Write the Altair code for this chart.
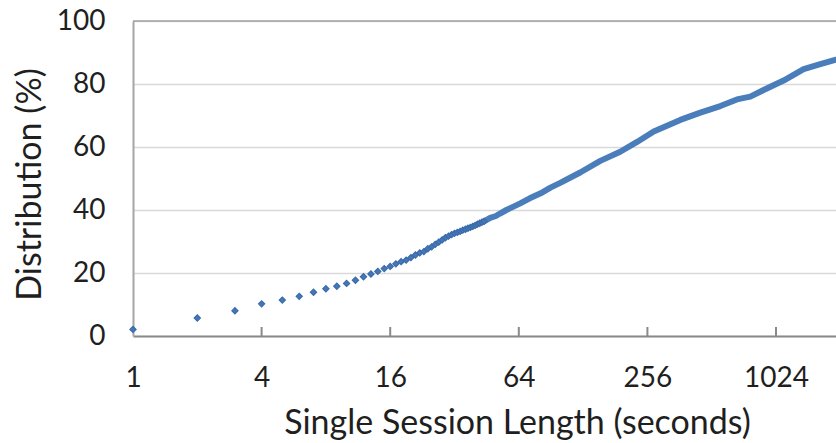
import altair as alt
import pandas as pd

# Session lengths (seconds) shown as individual markers
point_sec = list(range(1, 45))
point_pct = [2.1, 5.7, 8.0, 10.2, 11.4, 12.6, 13.9, 15.0, 15.8, 16.7,
             17.7, 18.8, 19.7, 20.5, 21.4, 22.1, 22.9, 23.6, 24.1, 24.9,
             25.7, 26.4, 26.8, 27.7, 28.3, 29.1, 29.8, 30.5, 31.2, 31.7,
             32.2, 32.6, 32.9, 33.2, 33.6, 33.9, 34.2, 34.5, 34.8, 35.1,
             35.5, 35.8, 36.1, 36.4]

# Dense part of the distribution, drawn as a thick line
curve_sec = [44, 47, 50, 52, 56, 65, 72, 81, 90, 100, 124, 154, 191, 229,
             274, 365, 453, 562, 672, 776, 896, 1111, 1379, 1651, 1955]
curve_pct = [36.4, 37.5, 38.1, 38.8, 40.0, 42.1, 43.7, 45.3, 47.1, 48.6,
             51.9, 55.6, 58.5, 61.6, 64.9, 68.6, 70.9, 73.0, 75.1, 76.0,
             78.1, 81.1, 84.7, 86.3, 87.7]

x_ticks = [1, 4, 16, 64, 256, 1024]
y_ticks = [0, 20, 40, 60, 80, 100]

W, H = 703, 315
FONT = "Lato"
TXT = "#1f1f1f"
BLUE = "#4a7ebb"

points_df = pd.DataFrame({"sec": point_sec, "pct": point_pct})
curve_df = pd.DataFrame({"sec": curve_sec, "pct": curve_pct})
ticks_df = pd.DataFrame({"sec": x_ticks[1:]})
top_df = pd.DataFrame({"pct": [100]})

x_scale = alt.Scale(type="log", base=2, domain=[1, 1955], nice=False)
y_scale = alt.Scale(domain=[0, 100], nice=False)

x_axis = alt.Axis(
    values=x_ticks, format="d", title="Single Session Length (seconds)",
    grid=False, ticks=False, tickSize=0, domainColor="#8a8a8a", domainWidth=2,
    labelFont=FONT, labelFontSize=28, labelColor=TXT, labelPadding=50,
    labelBaseline="alphabetic", labelFlush=False,
    titleFont=FONT, titleFontSize=34, titleFontWeight="normal", titleColor=TXT,
    titleX=384, titleY=97, titleBaseline="alphabetic", titleAlign="center",
)
y_axis = alt.Axis(
    values=y_ticks, title="Distribution (%)",
    grid=True, gridColor="#d9d9d9", gridWidth=1.5,
    ticks=False, tickSize=0, domainColor="#a6a6a6", domainWidth=2,
    labelFont=FONT, labelFontSize=28, labelColor=TXT, labelPadding=28,
    titleFont=FONT, titleFontSize=34, titleFontWeight="normal", titleColor=TXT,
    titleAngle=-90, titleX=-103, titleY=163, titleBaseline="middle",
    titleAlign="center",
)

curve = alt.Chart(curve_df).mark_line(
    color=BLUE, strokeWidth=6, strokeCap="round", strokeJoin="round"
).encode(
    x=alt.X("sec:Q", scale=x_scale, axis=x_axis),
    y=alt.Y("pct:Q", scale=y_scale, axis=y_axis),
)

points = alt.Chart(points_df).mark_point(
    shape="diamond", filled=True, size=38, color="#4677b6",
    stroke="#3a6bab", strokeWidth=1.2, opacity=1,
).encode(
    x=alt.X("sec:Q", scale=x_scale),
    y=alt.Y("pct:Q", scale=y_scale),
)

tick_marks = alt.Chart(ticks_df).mark_rule(color="#8a8a8a", strokeWidth=2).encode(
    x=alt.X("sec:Q", scale=x_scale),
    y=alt.value(H - 9),
    y2=alt.value(H),
)

top_line = alt.Chart(top_df).mark_rule(color="#a0a0a0", strokeWidth=1.5).encode(
    y=alt.Y("pct:Q", scale=y_scale),
    x=alt.value(0),
    x2=alt.value(W),
)

chart = alt.layer(top_line, curve, points, tick_marks).properties(
    width=W, height=H,
    autosize=alt.AutoSizeParams(type="none"),
    padding={"left": 133, "top": 21, "right": 0, "bottom": 107},
    background="white",
).configure_view(stroke=None)

chart.save("out.html", embed_options={"renderer": "svg", "actions": False})
